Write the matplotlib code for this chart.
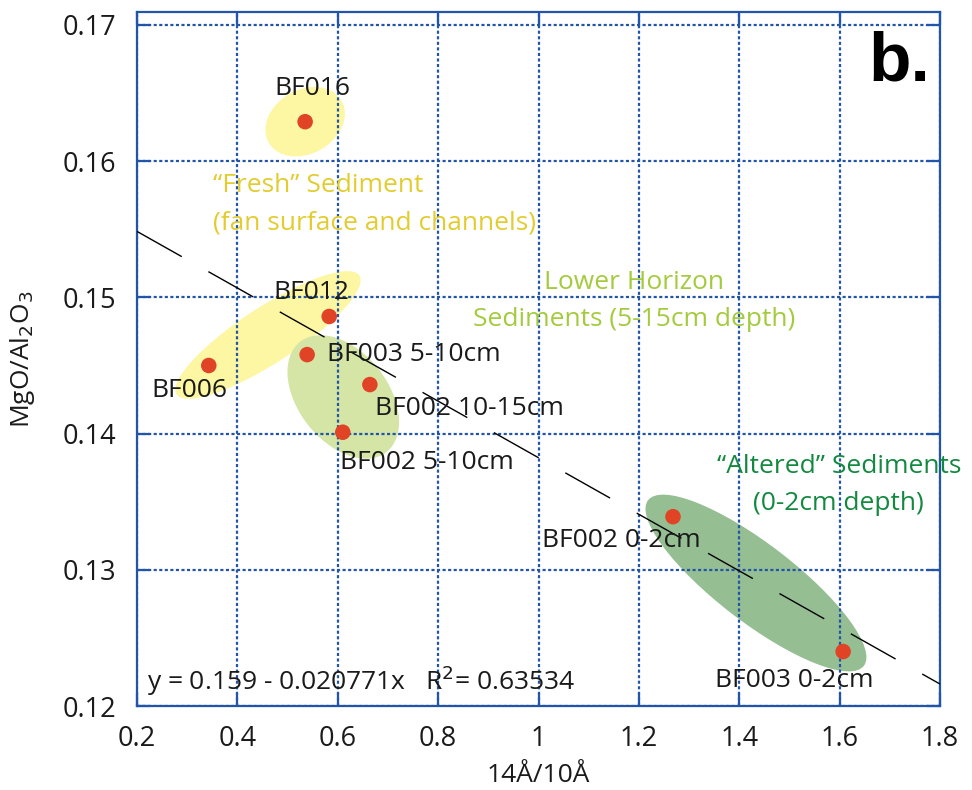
import matplotlib
matplotlib.use("Agg")
import matplotlib.pyplot as plt
from matplotlib.patches import Ellipse
from matplotlib import transforms

plt.rcParams["font.family"] = ["Open Sans", "DejaVu Sans"]

# Samples: clay ratio (14Å/10Å) vs MgO/Al2O3
samples = ["BF016", "BF012", "BF003 5-10cm", "BF006", "BF002 10-15cm",
           "BF002 5-10cm", "BF002 0-2cm", "BF003 0-2cm"]
ratio_14_10 = [0.535, 0.583, 0.539, 0.343, 0.664, 0.610, 1.268, 1.607]
mgo_al2o3 = [0.1629, 0.1486, 0.1458, 0.1450, 0.1436, 0.1401, 0.1339, 0.1240]

# Linear fit reported on the chart
fit_intercept = 0.159
fit_slope = -0.020771
fit_r2 = 0.63534

x_ticks = [0.2, 0.4, 0.6, 0.8, 1.0, 1.2, 1.4, 1.6, 1.8]
x_ticklabels = ["0.2", "0.4", "0.6", "0.8", "1", "1.2", "1.4", "1.6", "1.8"]
y_ticks = [0.12, 0.13, 0.14, 0.15, 0.16, 0.17]

# Group envelopes: centre (data units), size (pixels), tilt (deg), colour
groups = [
    ((0.535, 0.1629), 84, 64, 30, "#fdf6a3"),
    ((0.461, 0.14724), 218, 56, 33, "#fdf6a3"),
    ((0.611, 0.14269), 140, 90, -52, "#d4e5a6"),
    ((1.4333, 0.12903), 272, 78, -37.5, "#96be93"),
]

# label offsets (points) and alignment for each sample
label_offsets = [(5, 24), (-13, 17), (14, 0), (-14, -18), (4, -17),
                 (-2, -21.5), (-37, -17), (-35, -21)]
label_ha = ["center", "center", "left", "center", "left", "left",
            "center", "center"]

blue = "#2255a8"
dpi = 100
fig = plt.figure(figsize=(9.72, 7.90), dpi=dpi)
ax = fig.add_axes([137 / 972, 1 - 706 / 790, 803 / 972, 694 / 790])

ax.set_xlim(0.2, 1.8)
ax.set_ylim(0.12, 0.12 + 694 / 13620)

for (cx, cy), w, h, ang, col in groups:
    tr = fig.dpi_scale_trans + transforms.ScaledTranslation(cx, cy, ax.transData)
    e = Ellipse((0, 0), w / dpi, h / dpi, angle=ang, transform=tr,
                facecolor=col, edgecolor="none", zorder=1)
    ax.add_patch(e)

# regression line
xs = [0.2, 1.8]
ys = [fit_intercept + fit_slope * v for v in xs]
ax.plot(xs, ys, color="black", lw=1.0, dashes=(37, 22), zorder=3)

ax.scatter(ratio_14_10, mgo_al2o3, s=125, color="#e04326", zorder=5,
           edgecolors="none")

for name, x, y, off, ha in zip(samples, ratio_14_10, mgo_al2o3,
                               label_offsets, label_ha):
    ax.annotate(name, (x, y), xytext=off, textcoords="offset points",
                ha=ha, va="center", fontsize=19, color="#1a1a1a", zorder=6)

# group captions
fs = 19
ax.text(0.0946, 0.7406, "\u201cFresh\u201d Sediment", transform=ax.transAxes,
        fontsize=fs, color="#e3cc2e", ha="left", va="baseline")
ax.text(0.0946, 0.6873, "(fan surface and channels)", transform=ax.transAxes,
        fontsize=fs, color="#e3cc2e", ha="left", va="baseline")
ax.text(0.619, 0.6009, "Lower Horizon", transform=ax.transAxes,
        fontsize=fs, color="#a3cb3c", ha="center", va="baseline")
ax.text(0.619, 0.5476, "Sediments (5-15cm depth)", transform=ax.transAxes,
        fontsize=fs, color="#a3cb3c", ha="center", va="baseline")
ax.text(0.874, 0.3357, "\u201cAltered\u201d Sediments", transform=ax.transAxes,
        fontsize=fs, color="#12893f", ha="center", va="baseline")
ax.text(0.874, 0.2824, "(0-2cm depth)", transform=ax.transAxes,
        fontsize=fs, color="#12893f", ha="center", va="baseline")

ax.text(0.0125, 0.023,
        "y = 0.159 - 0.020771x   R$^2$= %.5f" % fit_r2,
        transform=ax.transAxes, fontsize=fs, color="#1a1a1a",
        ha="left", va="baseline")

ax.text(0.9875, 0.902, "b.", transform=ax.transAxes, fontsize=50,
        fontweight="bold", family="Liberation Sans", ha="right",
        va="baseline", color="black")

ax.set_xticks(x_ticks)
ax.set_xticklabels(x_ticklabels)
ax.set_yticks(y_ticks)
ax.set_yticklabels(["%.2f" % v for v in y_ticks])

ax.grid(True, color=blue, lw=1.6, linestyle=(0, (1.4, 1.1)), zorder=2)
ax.set_axisbelow(False)
for sp in ax.spines.values():
    sp.set_color(blue)
    sp.set_linewidth(1.6)

ax.tick_params(direction="in", length=9.5, width=1.6, color=blue,
               top=True, right=True, labelsize=19.5, labelcolor="#1a1a1a")
ax.tick_params(axis="y", pad=15)
ax.tick_params(axis="x", pad=14)

ax.set_xlabel("14Å/10Å", fontsize=19, color="#1a1a1a", labelpad=7)
ax.set_ylabel("MgO/Al$_2$O$_3$", fontsize=19, color="#1a1a1a")
ax.yaxis.set_label_coords(-0.125, 0.5)

fig.savefig("out.png", dpi=dpi)
